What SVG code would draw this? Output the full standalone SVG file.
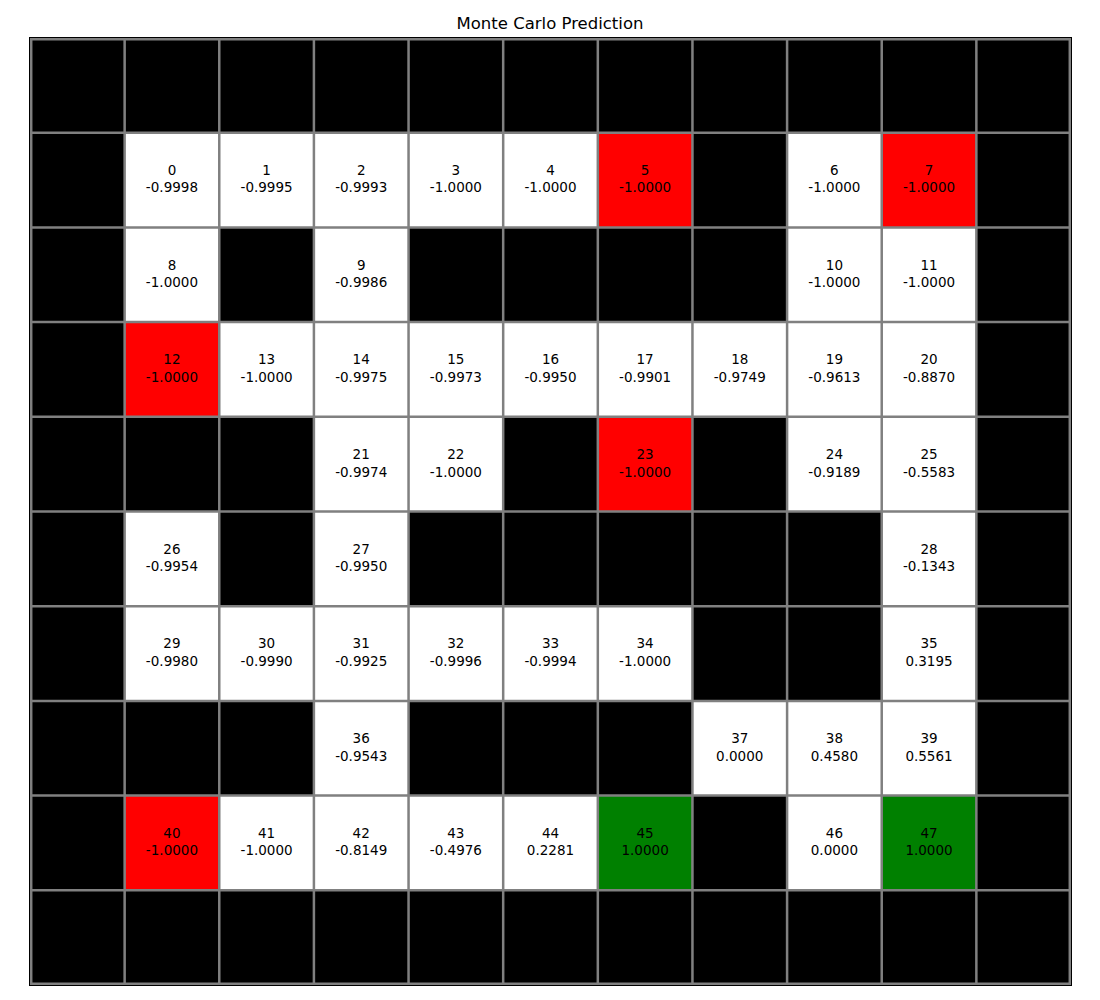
<svg xmlns="http://www.w3.org/2000/svg" width="1100" height="1000" viewBox="0 0 1100 1000">
<style>
.bg{fill:#000}
.w{fill:#fff}
.r{fill:#ff0000}
.g{fill:#008000}
.lbl{font-family:"DejaVu Sans",sans-serif;font-size:13.5px;fill:#000;text-anchor:middle}
.title{font-family:"DejaVu Sans",sans-serif;font-size:16.5px;fill:#000;text-anchor:middle}
.grid{stroke:#808080;stroke-width:2.5;fill:none}
</style>
<defs>
<rect id="cell" x="0" y="0" width="94.64" height="94.7"/>
</defs>
<rect width="1100" height="1000" fill="#fff"/>
<text class="title" x="550" y="29">Monte Carlo Prediction</text>
<rect class="bg" x="30" y="38" width="1041" height="947"/>
<g id="nodes">
<g id="s0" transform="translate(124.64,132.7)"><use href="#cell" class="w"/><text class="lbl"><tspan x="47.3" y="42.3">0</tspan><tspan x="47.3" y="59.8">-0.9998</tspan></text></g>
<g id="s1" transform="translate(219.27,132.7)"><use href="#cell" class="w"/><text class="lbl"><tspan x="47.3" y="42.3">1</tspan><tspan x="47.3" y="59.8">-0.9995</tspan></text></g>
<g id="s2" transform="translate(313.91,132.7)"><use href="#cell" class="w"/><text class="lbl"><tspan x="47.3" y="42.3">2</tspan><tspan x="47.3" y="59.8">-0.9993</tspan></text></g>
<g id="s3" transform="translate(408.55,132.7)"><use href="#cell" class="w"/><text class="lbl"><tspan x="47.3" y="42.3">3</tspan><tspan x="47.3" y="59.8">-1.0000</tspan></text></g>
<g id="s4" transform="translate(503.18,132.7)"><use href="#cell" class="w"/><text class="lbl"><tspan x="47.3" y="42.3">4</tspan><tspan x="47.3" y="59.8">-1.0000</tspan></text></g>
<g id="s5" transform="translate(597.82,132.7)"><use href="#cell" class="r"/><text class="lbl"><tspan x="47.3" y="42.3">5</tspan><tspan x="47.3" y="59.8">-1.0000</tspan></text></g>
<g id="s6" transform="translate(787.09,132.7)"><use href="#cell" class="w"/><text class="lbl"><tspan x="47.3" y="42.3">6</tspan><tspan x="47.3" y="59.8">-1.0000</tspan></text></g>
<g id="s7" transform="translate(881.73,132.7)"><use href="#cell" class="r"/><text class="lbl"><tspan x="47.3" y="42.3">7</tspan><tspan x="47.3" y="59.8">-1.0000</tspan></text></g>
<g id="s8" transform="translate(124.64,227.4)"><use href="#cell" class="w"/><text class="lbl"><tspan x="47.3" y="42.3">8</tspan><tspan x="47.3" y="59.8">-1.0000</tspan></text></g>
<g id="s9" transform="translate(313.91,227.4)"><use href="#cell" class="w"/><text class="lbl"><tspan x="47.3" y="42.3">9</tspan><tspan x="47.3" y="59.8">-0.9986</tspan></text></g>
<g id="s10" transform="translate(787.09,227.4)"><use href="#cell" class="w"/><text class="lbl"><tspan x="47.3" y="42.3">10</tspan><tspan x="47.3" y="59.8">-1.0000</tspan></text></g>
<g id="s11" transform="translate(881.73,227.4)"><use href="#cell" class="w"/><text class="lbl"><tspan x="47.3" y="42.3">11</tspan><tspan x="47.3" y="59.8">-1.0000</tspan></text></g>
<g id="s12" transform="translate(124.64,322.1)"><use href="#cell" class="r"/><text class="lbl"><tspan x="47.3" y="42.3">12</tspan><tspan x="47.3" y="59.8">-1.0000</tspan></text></g>
<g id="s13" transform="translate(219.27,322.1)"><use href="#cell" class="w"/><text class="lbl"><tspan x="47.3" y="42.3">13</tspan><tspan x="47.3" y="59.8">-1.0000</tspan></text></g>
<g id="s14" transform="translate(313.91,322.1)"><use href="#cell" class="w"/><text class="lbl"><tspan x="47.3" y="42.3">14</tspan><tspan x="47.3" y="59.8">-0.9975</tspan></text></g>
<g id="s15" transform="translate(408.55,322.1)"><use href="#cell" class="w"/><text class="lbl"><tspan x="47.3" y="42.3">15</tspan><tspan x="47.3" y="59.8">-0.9973</tspan></text></g>
<g id="s16" transform="translate(503.18,322.1)"><use href="#cell" class="w"/><text class="lbl"><tspan x="47.3" y="42.3">16</tspan><tspan x="47.3" y="59.8">-0.9950</tspan></text></g>
<g id="s17" transform="translate(597.82,322.1)"><use href="#cell" class="w"/><text class="lbl"><tspan x="47.3" y="42.3">17</tspan><tspan x="47.3" y="59.8">-0.9901</tspan></text></g>
<g id="s18" transform="translate(692.45,322.1)"><use href="#cell" class="w"/><text class="lbl"><tspan x="47.3" y="42.3">18</tspan><tspan x="47.3" y="59.8">-0.9749</tspan></text></g>
<g id="s19" transform="translate(787.09,322.1)"><use href="#cell" class="w"/><text class="lbl"><tspan x="47.3" y="42.3">19</tspan><tspan x="47.3" y="59.8">-0.9613</tspan></text></g>
<g id="s20" transform="translate(881.73,322.1)"><use href="#cell" class="w"/><text class="lbl"><tspan x="47.3" y="42.3">20</tspan><tspan x="47.3" y="59.8">-0.8870</tspan></text></g>
<g id="s21" transform="translate(313.91,416.8)"><use href="#cell" class="w"/><text class="lbl"><tspan x="47.3" y="42.3">21</tspan><tspan x="47.3" y="59.8">-0.9974</tspan></text></g>
<g id="s22" transform="translate(408.55,416.8)"><use href="#cell" class="w"/><text class="lbl"><tspan x="47.3" y="42.3">22</tspan><tspan x="47.3" y="59.8">-1.0000</tspan></text></g>
<g id="s23" transform="translate(597.82,416.8)"><use href="#cell" class="r"/><text class="lbl"><tspan x="47.3" y="42.3">23</tspan><tspan x="47.3" y="59.8">-1.0000</tspan></text></g>
<g id="s24" transform="translate(787.09,416.8)"><use href="#cell" class="w"/><text class="lbl"><tspan x="47.3" y="42.3">24</tspan><tspan x="47.3" y="59.8">-0.9189</tspan></text></g>
<g id="s25" transform="translate(881.73,416.8)"><use href="#cell" class="w"/><text class="lbl"><tspan x="47.3" y="42.3">25</tspan><tspan x="47.3" y="59.8">-0.5583</tspan></text></g>
<g id="s26" transform="translate(124.64,511.5)"><use href="#cell" class="w"/><text class="lbl"><tspan x="47.3" y="42.3">26</tspan><tspan x="47.3" y="59.8">-0.9954</tspan></text></g>
<g id="s27" transform="translate(313.91,511.5)"><use href="#cell" class="w"/><text class="lbl"><tspan x="47.3" y="42.3">27</tspan><tspan x="47.3" y="59.8">-0.9950</tspan></text></g>
<g id="s28" transform="translate(881.73,511.5)"><use href="#cell" class="w"/><text class="lbl"><tspan x="47.3" y="42.3">28</tspan><tspan x="47.3" y="59.8">-0.1343</tspan></text></g>
<g id="s29" transform="translate(124.64,606.2)"><use href="#cell" class="w"/><text class="lbl"><tspan x="47.3" y="42.3">29</tspan><tspan x="47.3" y="59.8">-0.9980</tspan></text></g>
<g id="s30" transform="translate(219.27,606.2)"><use href="#cell" class="w"/><text class="lbl"><tspan x="47.3" y="42.3">30</tspan><tspan x="47.3" y="59.8">-0.9990</tspan></text></g>
<g id="s31" transform="translate(313.91,606.2)"><use href="#cell" class="w"/><text class="lbl"><tspan x="47.3" y="42.3">31</tspan><tspan x="47.3" y="59.8">-0.9925</tspan></text></g>
<g id="s32" transform="translate(408.55,606.2)"><use href="#cell" class="w"/><text class="lbl"><tspan x="47.3" y="42.3">32</tspan><tspan x="47.3" y="59.8">-0.9996</tspan></text></g>
<g id="s33" transform="translate(503.18,606.2)"><use href="#cell" class="w"/><text class="lbl"><tspan x="47.3" y="42.3">33</tspan><tspan x="47.3" y="59.8">-0.9994</tspan></text></g>
<g id="s34" transform="translate(597.82,606.2)"><use href="#cell" class="w"/><text class="lbl"><tspan x="47.3" y="42.3">34</tspan><tspan x="47.3" y="59.8">-1.0000</tspan></text></g>
<g id="s35" transform="translate(881.73,606.2)"><use href="#cell" class="w"/><text class="lbl"><tspan x="47.3" y="42.3">35</tspan><tspan x="47.3" y="59.8">0.3195</tspan></text></g>
<g id="s36" transform="translate(313.91,700.9)"><use href="#cell" class="w"/><text class="lbl"><tspan x="47.3" y="42.3">36</tspan><tspan x="47.3" y="59.8">-0.9543</tspan></text></g>
<g id="s37" transform="translate(692.45,700.9)"><use href="#cell" class="w"/><text class="lbl"><tspan x="47.3" y="42.3">37</tspan><tspan x="47.3" y="59.8">0.0000</tspan></text></g>
<g id="s38" transform="translate(787.09,700.9)"><use href="#cell" class="w"/><text class="lbl"><tspan x="47.3" y="42.3">38</tspan><tspan x="47.3" y="59.8">0.4580</tspan></text></g>
<g id="s39" transform="translate(881.73,700.9)"><use href="#cell" class="w"/><text class="lbl"><tspan x="47.3" y="42.3">39</tspan><tspan x="47.3" y="59.8">0.5561</tspan></text></g>
<g id="s40" transform="translate(124.64,795.6)"><use href="#cell" class="r"/><text class="lbl"><tspan x="47.3" y="42.3">40</tspan><tspan x="47.3" y="59.8">-1.0000</tspan></text></g>
<g id="s41" transform="translate(219.27,795.6)"><use href="#cell" class="w"/><text class="lbl"><tspan x="47.3" y="42.3">41</tspan><tspan x="47.3" y="59.8">-1.0000</tspan></text></g>
<g id="s42" transform="translate(313.91,795.6)"><use href="#cell" class="w"/><text class="lbl"><tspan x="47.3" y="42.3">42</tspan><tspan x="47.3" y="59.8">-0.8149</tspan></text></g>
<g id="s43" transform="translate(408.55,795.6)"><use href="#cell" class="w"/><text class="lbl"><tspan x="47.3" y="42.3">43</tspan><tspan x="47.3" y="59.8">-0.4976</tspan></text></g>
<g id="s44" transform="translate(503.18,795.6)"><use href="#cell" class="w"/><text class="lbl"><tspan x="47.3" y="42.3">44</tspan><tspan x="47.3" y="59.8">0.2281</tspan></text></g>
<g id="s45" transform="translate(597.82,795.6)"><use href="#cell" class="g"/><text class="lbl"><tspan x="47.3" y="42.3">45</tspan><tspan x="47.3" y="59.8">1.0000</tspan></text></g>
<g id="s46" transform="translate(787.09,795.6)"><use href="#cell" class="w"/><text class="lbl"><tspan x="47.3" y="42.3">46</tspan><tspan x="47.3" y="59.8">0.0000</tspan></text></g>
<g id="s47" transform="translate(881.73,795.6)"><use href="#cell" class="g"/><text class="lbl"><tspan x="47.3" y="42.3">47</tspan><tspan x="47.3" y="59.8">1.0000</tspan></text></g>
</g>
<g id="connectors"></g>
<g id="gridlines">
<path class="grid" d="M31.2 38V985M124.64 38V985M219.27 38V985M313.91 38V985M408.55 38V985M503.18 38V985M597.82 38V985M692.45 38V985M787.09 38V985M881.73 38V985M976.36 38V985M1069.8 38V985M30 39.2H1071M30 132.7H1071M30 227.4H1071M30 322.1H1071M30 416.8H1071M30 511.5H1071M30 606.2H1071M30 700.9H1071M30 795.6H1071M30 890.3H1071M30 983.8H1071"/>
<rect x="29.5" y="37.5" width="1042" height="948" fill="none" stroke="#000" stroke-width="1"/>
</g>
</svg>
